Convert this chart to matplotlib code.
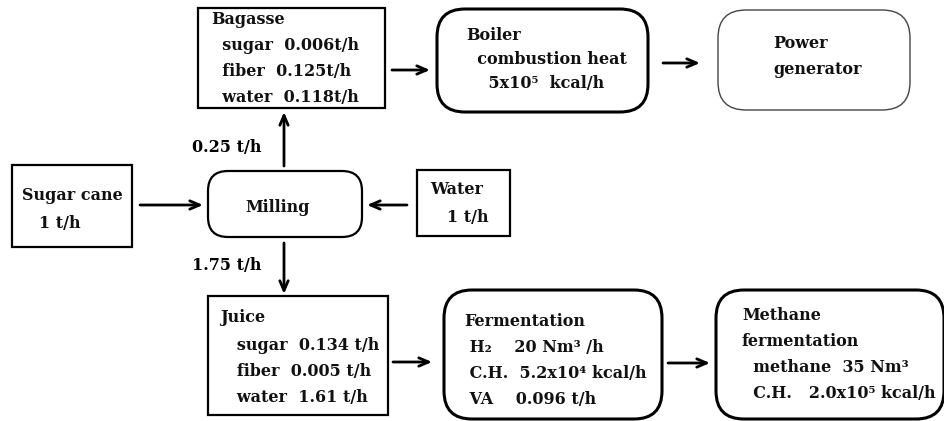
"""
Sugar cane process flow: milling, bagasse boiler and juice fermentation.
"""
import matplotlib
matplotlib.use("Agg")
from matplotlib import pyplot as plt
from matplotlib.patches import FancyBboxPatch, Rectangle

# node texts
bagasse_lines = ["Bagasse", "  sugar  0.006t/h", "  fiber  0.125t/h", "  water  0.118t/h"]
boiler_lines = ["Boiler", "  combustion heat", "    5x10⁵  kcal/h"]
power_lines = ["Power", "generator"]
cane_lines = ["Sugar cane", "   1 t/h"]
milling_label = "Milling"
water_lines = ["Water", "   1 t/h"]
juice_lines = ["Juice", "   sugar  0.134 t/h", "   fiber  0.005 t/h", "   water  1.61 t/h"]
ferm_lines = ["Fermentation", " H₂    20 Nm³ /h", " C.H.  5.2x10⁴ kcal/h", " VA    0.096 t/h"]
methane_lines = ["Methane", "fermentation", "  methane  35 Nm³", "  C.H.   2.0x10⁵ kcal/h"]

# flow labels
flow_up = "0.25 t/h"
flow_down = "1.75 t/h"

FONT = ["DejaVu Serif"]
FS = 11.5


def box(ax, x0, y0, x1, y1, rounded=0, lw=1.6, color="black"):
    if rounded:
        p = FancyBboxPatch((x0, y0), x1 - x0, y1 - y0,
                           boxstyle="round,pad=0,rounding_size=%d" % rounded,
                           fc="white", ec=color, lw=lw)
    else:
        p = Rectangle((x0, y0), x1 - x0, y1 - y0, fc="white", ec=color, lw=lw)
    ax.add_patch(p)


def lines(ax, x, ys, texts):
    for y, t in zip(ys, texts):
        ax.text(x, y, t, family=FONT, fontsize=FS, weight="bold",
                va="center", ha="left", color="#111111")


def arrow(ax, x0, y0, x1, y1):
    ax.annotate("", xy=(x1, y1), xytext=(x0, y0),
                arrowprops=dict(arrowstyle="->,head_length=0.7,head_width=0.3",
                                lw=2, color="black", shrinkA=0, shrinkB=0))


fig = plt.figure(figsize=(9.45, 4.21), dpi=100)
ax = fig.add_axes([0, 0, 1, 1])
ax.set_xlim(0, 945)
ax.set_ylim(421, 0)
ax.axis("off")

# top row
box(ax, 198, 8, 385, 108)
lines(ax, 211, [20, 45, 71, 97], bagasse_lines)
arrow(ax, 392, 70, 430, 70)
box(ax, 437, 9, 648, 112, rounded=28, lw=2.2)
lines(ax, 466, [35, 60, 84], boiler_lines)
arrow(ax, 663, 63, 700, 63)
box(ax, 718, 10, 910, 110, rounded=28, lw=1.0, color="#444444")
lines(ax, 773, [43, 70], power_lines)

# middle row
box(ax, 12, 165, 132, 247)
lines(ax, 22, [195, 223], cane_lines)
arrow(ax, 140, 205, 203, 205)
box(ax, 208, 171, 362, 237, rounded=20, lw=1.6)
ax.text(278, 208, milling_label, family=FONT, fontsize=FS, weight="bold",
        ha="center", va="center", color="#111111")
box(ax, 417, 170, 510, 236)
lines(ax, 430, [190, 218], water_lines)
arrow(ax, 407, 205, 367, 205)

arrow(ax, 284, 166, 284, 112)
ax.text(192, 148, flow_up, family=FONT, fontsize=FS, weight="bold", va="center")
arrow(ax, 284, 243, 284, 294)
ax.text(192, 266, flow_down, family=FONT, fontsize=FS, weight="bold", va="center")

# bottom row
box(ax, 208, 296, 388, 415)
lines(ax, 220, [318, 345, 371, 397], juice_lines)
arrow(ax, 393, 362, 432, 362)
box(ax, 444, 290, 662, 419, rounded=28, lw=2.2)
lines(ax, 464, [322, 348, 374, 400], ferm_lines)
arrow(ax, 668, 363, 710, 363)
box(ax, 716, 290, 944, 419, rounded=28, lw=2.2)
lines(ax, 742, [316, 342, 368, 393], methane_lines)

fig.savefig("out.png", dpi=100)
